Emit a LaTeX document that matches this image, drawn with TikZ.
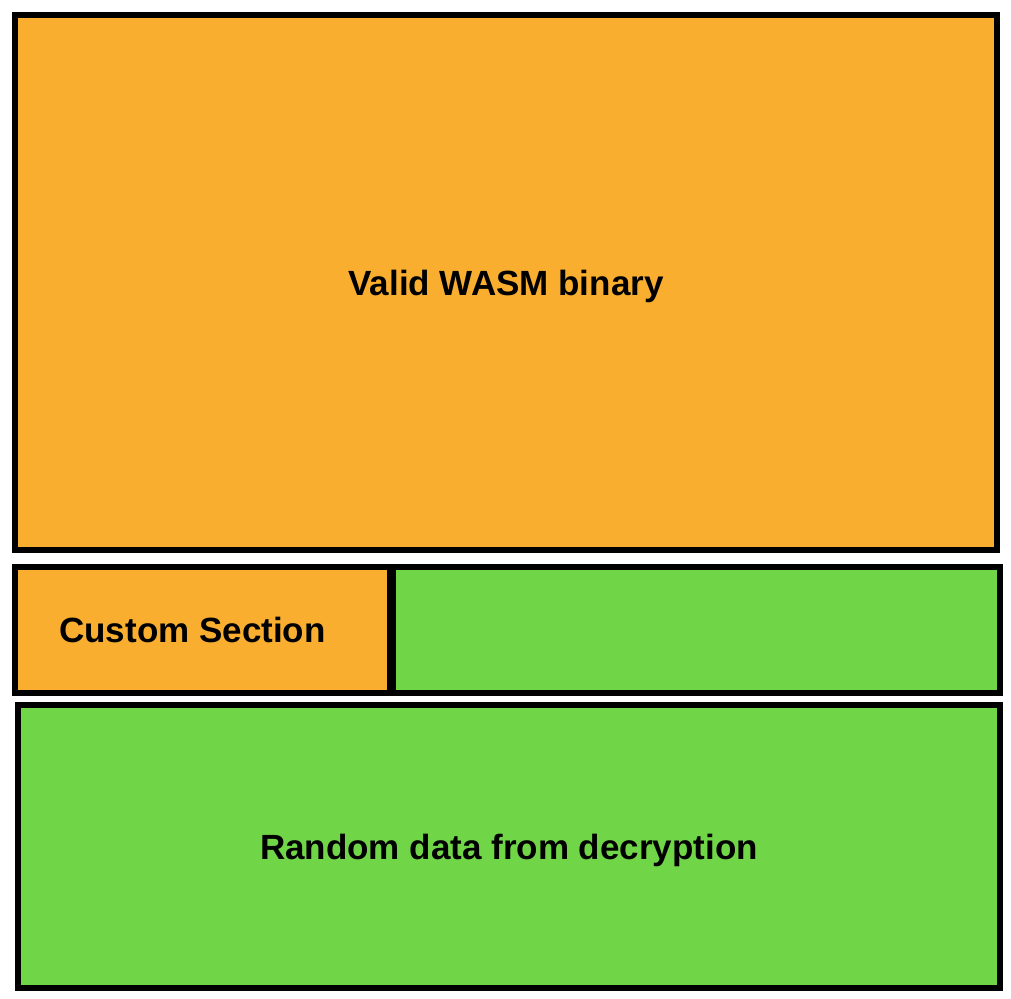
\documentclass[tikz,border=0pt]{standalone}
\usepackage{fontspec}
\setmainfont{Liberation Sans}
\usetikzlibrary{positioning}
\definecolor{wasmorange}{RGB}{249,174,48}
\definecolor{randgreen}{RGB}{112,214,72}
\tikzset{
    block/.style = {draw=black, line width=6pt, inner sep=0pt, text depth=0pt,
        font=\fontsize{35}{40}\selectfont\bfseries},
    wasm/.style = {block, fill=wasmorange},
    rand/.style = {block, fill=randgreen},
    txt/.style = {inner sep=0pt, font=\fontsize{35}{40}\selectfont\bfseries}
}

\begin{document}
\begin{tikzpicture}[x=1pt, y=-1pt]
        \useasboundingbox (0, 0) rectangle (1011, 998);
        % valid binary on top
        \node[wasm, minimum width=982pt, minimum height=535pt] (binary) at (506, 282.5) {Valid WASM binary};
        % custom section row
        \node[wasm, minimum width=375pt, minimum height=126pt] (custom) at (202.5, 630) {};
        \node[rand, minimum width=607pt, minimum height=126pt] (payload) at (696.5, 630) {};
        \node[txt] (customtext) at ([xshift=-10pt]custom.center) {Custom Section};
        % decrypted data below
        \node[rand, minimum width=982pt, minimum height=283pt] (random) at (509, 846.5) {Random data from decryption};
    \end{tikzpicture}
\end{document}
